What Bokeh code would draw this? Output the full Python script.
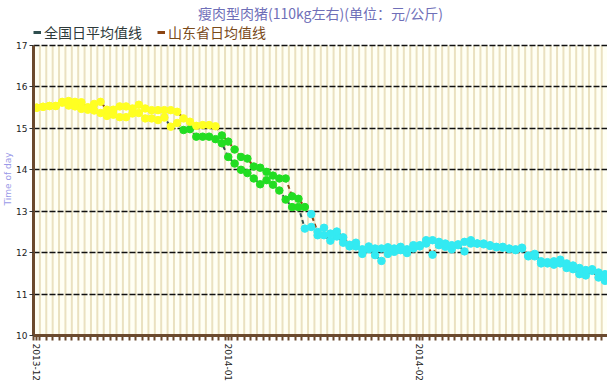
from bokeh.plotting import figure
from bokeh.models import ColumnDataSource, FixedTicker, Legend, LegendItem
from bokeh.embed import file_html
from bokeh.resources import INLINE

# ---------------- data ----------------
day_index = list(range(90))
month_ticks = [0, 30, 60]
month_labels = ["2013-12", "2014-01", "2014-02"]
y_ticks = [10, 11, 12, 13, 14, 15, 16, 17]

national = [15.50, 15.52, 15.54, 15.54, 15.62, 15.55, 15.53, 15.47, 15.45, 15.43,
            15.37, 15.30, 15.33, 15.27, 15.27, 15.36, 15.37, 15.24, 15.24, 15.20,
            15.26, 15.04, 15.13, 14.96, 14.98, 14.80, 14.80, 14.80, 14.74, 14.64,
            14.31, 14.15, 14.00, 13.92, 13.79, 13.65, 13.75, 13.64, 13.50, 13.28,
            13.10, 13.10, 12.58, 12.62, 12.42, 12.42, 12.29, 12.39, 12.24, 12.15,
            12.15, 11.97, 12.08, 11.94, 11.80, 11.97, 12.02, 12.06, 11.99, 12.10,
            12.15, 12.30, 12.30, 12.18, 12.14, 12.08, 12.18, 12.03, 12.22, 12.22,
            12.20, 12.16, 12.13, 12.12, 12.09, 12.06, 12.10, 11.91, 11.91, 11.74,
            11.74, 11.71, 11.74, 11.63, 11.60, 11.48, 11.45, 11.56, 11.40, 11.32]

shandong = [15.50, 15.52, 15.54, 15.54, 15.64, 15.66, 15.64, 15.63, 15.51, 15.59,
            15.64, 15.45, 15.45, 15.53, 15.53, 15.48, 15.57, 15.48, 15.44, 15.44,
            15.44, 15.44, 15.40, 15.24, 15.16, 15.06, 15.08, 15.08, 15.05, 14.83,
            14.68, 14.49, 14.31, 14.27, 14.08, 14.05, 13.95, 13.86, 13.79, 13.79,
            13.36, 13.30, 13.10, 12.93, 12.50, 12.60, 12.46, 12.51, 12.37, 12.19,
            12.24, 12.08, 12.15, 12.10, 12.10, 12.13, 12.10, 12.14, 12.08, 12.18,
            12.18, 12.22, 11.95, 12.26, 12.22, 12.18, 12.20, 12.26, 12.30, 12.22,
            12.22, 12.18, 12.14, 12.14, 12.10, 12.08, 12.12, 11.93, 11.97, 11.79,
            11.77, 11.79, 11.83, 11.74, 11.69, 11.63, 11.58, 11.60, 11.52, 11.48]

series_names = ["全国日平均值线", "山东省日均值线"]
line_colors = ["#2F4F4F", "#8B4513"]
legend_text_colors = ["#2E3A3A", "#7A4A1A"]


def point_color(v):
    if v >= 15:
        return "#FFFF22"
    if v >= 13:
        return "#22DD22"
    return "#33EAF2"


Y_MIN, Y_MAX = y_ticks[0], y_ticks[-1]
X_MIN, X_MAX = -0.5, 89.4
H_DATA = 290          # pixels for the 10..17 band
H_TOP = 23            # strip above 17 that holds the legend
FRAME_H = H_DATA + H_TOP
y_top = Y_MAX + H_TOP * (Y_MAX - Y_MIN) / H_DATA

p = figure(frame_width=574, frame_height=FRAME_H, output_backend="svg", toolbar_location=None,
           x_range=(X_MIN, X_MAX), y_range=(Y_MIN, y_top),
           background_fill_color="white", border_fill_color="white",
           min_border_left=0, min_border_right=0, min_border_top=0, min_border_bottom=0)

p.title.text = "瘦肉型肉猪(110kg左右)(单位：元/公斤)"
p.title.align = "center"
p.title.text_color = "#6F6FB8"
p.title.text_font = "Noto Sans CJK SC"
p.title.text_font_size = "14px"
p.title.text_font_style = "normal"
p.title.standoff = 0

# plot-area background (only the 10..17 band) and daily vertical grid lines
p.quad(left=[X_MIN], right=[X_MAX], bottom=[Y_MIN], top=[Y_MAX],
       fill_color="#FFFFF4", line_color=None, level="image")
half_days = [i - 0.5 for i in range(0, 91)]
p.segment(x0=half_days, x1=half_days, y0=[Y_MIN] * len(half_days), y1=[Y_MAX] * len(half_days),
          line_color="#EAE1C0", line_width=2, level="image")
p.xgrid.visible = False
p.ygrid.ticker = FixedTicker(ticks=y_ticks)
p.ygrid.grid_line_color = "#111111"
p.ygrid.grid_line_dash = "6 2"
p.ygrid.grid_line_width = 1.5

renderers = []
nan = float("nan")
for vals, col in zip([national, shandong], line_colors):
    src = ColumnDataSource(dict(x=day_index, y=vals))
    p.line("x", "y", source=src, line_color=col, line_width=2, line_dash="4 3")
    # solid stand-in (no visible data) used only for the legend swatch
    renderers.append(p.line(x=[nan, nan], y=[nan, nan], line_color=col, line_width=3))
for vals in [national, shandong]:
    src = ColumnDataSource(dict(x=day_index, y=vals, c=[point_color(v) for v in vals]))
    p.scatter("x", "y", source=src, size=7.5, fill_color="c", line_color="c")

LEG_H = 16
legend_x = [0, 124]
for name, r, tc, lx in zip(series_names, renderers, legend_text_colors, legend_x):
    lg = Legend(items=[LegendItem(label=name, renderers=[r])],
                location=(lx, FRAME_H - LEG_H - 4),
                label_text_font="Noto Sans CJK SC", label_text_font_size="14px",
                label_text_color=tc, glyph_width=8, glyph_height=LEG_H,
                label_height=LEG_H, label_standoff=3, padding=0, margin=0,
                border_line_color=None, background_fill_alpha=0)
    p.add_layout(lg, "center")

# axes
axis_brown = "#6B4A2E"
p.xaxis.ticker = FixedTicker(ticks=month_ticks, minor_ticks=half_days)
p.xaxis.major_label_overrides = {t: l for t, l in zip(month_ticks, month_labels)}
p.xaxis.major_label_orientation = "vertical"
p.xaxis.axis_line_color = axis_brown
p.xaxis.axis_line_width = 3
p.xaxis.major_tick_line_color = axis_brown
p.xaxis.minor_tick_line_color = axis_brown
p.xaxis.major_tick_line_width = 2
p.xaxis.minor_tick_line_width = 2
p.xaxis.major_tick_out = 5
p.xaxis.minor_tick_out = 5
p.xaxis.major_tick_in = 0
p.xaxis.minor_tick_in = 0
p.xaxis.major_label_text_font = "DejaVu Sans"
p.xaxis.major_label_text_font_size = "9px"
p.xaxis.major_label_text_color = "#222222"
p.xaxis.major_label_standoff = 3

p.yaxis.ticker = FixedTicker(ticks=y_ticks)
p.yaxis.bounds = (Y_MIN, Y_MAX)
p.yaxis.axis_label = "Time of day"
p.yaxis.axis_label_text_font = "DejaVu Sans"
p.yaxis.axis_label_text_font_size = "9px"
p.yaxis.axis_label_text_font_style = "normal"
p.yaxis.axis_label_text_color = "#9A9AE8"
p.yaxis.axis_label_standoff = 0
p.yaxis.axis_line_color = axis_brown
p.yaxis.axis_line_width = 3
p.yaxis.major_tick_line_color = "#333333"
p.yaxis.major_tick_out = 4
p.yaxis.major_tick_in = 0
p.yaxis.minor_tick_line_color = None
p.yaxis.major_label_text_font = "DejaVu Sans"
p.yaxis.major_label_text_font_size = "9px"
p.yaxis.major_label_text_color = "#222222"
p.yaxis.major_label_standoff = 2

p.outline_line_color = None

open("out.html", "w").write(file_html(p, INLINE))
